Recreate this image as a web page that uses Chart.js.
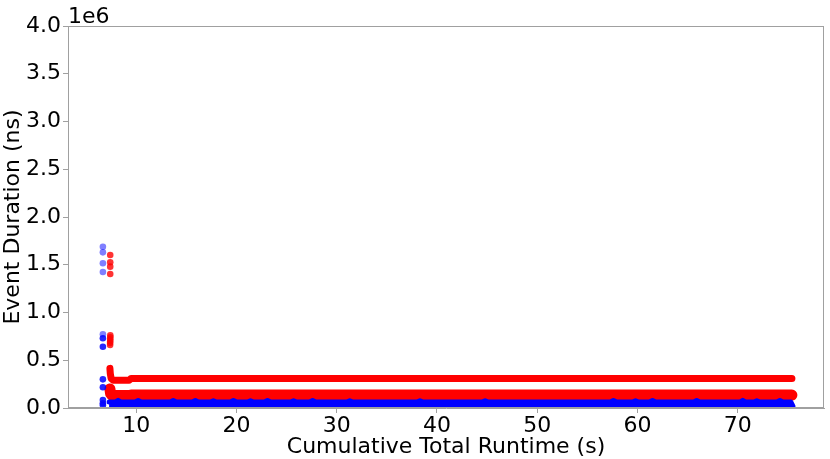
<!DOCTYPE html>
<html>
<head>
<meta charset="utf-8">
<script src="https://cdn.jsdelivr.net/npm/chart.js@4/dist/chart.umd.min.js"></script>
<style>
  html, body { margin: 0; padding: 0; background: #fff; }
  #wrap { width: 830px; height: 459px; position: relative; }
</style>
</head>
<body>
<div id="wrap"><canvas id="chart"></canvas></div>
<script>
// tick labels
const xTickValues = [10, 20, 30, 40, 50, 60, 70];
const yTickValues = [0, 0.5e6, 1.0e6, 1.5e6, 2.0e6, 2.5e6, 3.0e6, 3.5e6, 4.0e6];

// early outliers (start of run)
const blueFadedX = [6.68, 6.68, 6.68, 6.68, 6.68];
const blueFadedY = [1.689e6, 1.63e6, 1.515e6, 1.424e6, 0.772e6];
const blueSolidX = [6.68, 6.68, 6.68, 6.68, 6.68, 6.68, 6.68];
const blueSolidY = [0.73e6, 0.642e6, 0.30e6, 0.217e6, 0.084e6, 0.05e6, 0.03e6];
const redOutlierX = [7.41, 7.41, 7.41, 7.41, 7.42, 7.42, 7.41, 7.41, 7.40, 7.40];
const redOutlierY = [1.602e6, 1.526e6, 1.48e6, 1.403e6, 0.76e6, 0.74e6, 0.72e6, 0.70e6, 0.68e6, 0.66e6];

// upper red band (~0.3e6)
const redHighX = [7.38, 7.42, 7.5, 7.7, 8.5, 9.3, 9.5, 20, 30, 40, 50, 60, 70, 75.4];
const redHighY = [0.415e6, 0.36e6, 0.31e6, 0.29e6, 0.29e6, 0.29e6, 0.31e6, 0.31e6, 0.31e6, 0.31e6, 0.31e6, 0.31e6, 0.31e6, 0.31e6];

// lower red band (~0.13e6)
const redLowX = [7.38, 7.45, 7.6, 9.3, 9.5, 20, 30, 40, 50, 60, 70, 75.4];
const redLowY = [0.2e6, 0.15e6, 0.13e6, 0.13e6, 0.135e6, 0.135e6, 0.135e6, 0.135e6, 0.135e6, 0.135e6, 0.135e6, 0.135e6];

// blue band (0 .. ~0.06e6) with small bumps
const blueBandX = [7.3, 7.9, 8.2, 8.5, 9.9, 10.2, 10.5, 13.4, 13.7, 14.0, 15.6, 15.9, 16.2,
  17.4, 17.7, 18.0, 19.4, 19.7, 20.0, 21.1, 21.4, 21.7, 22.8, 23.1, 23.4, 25.4, 25.7, 26.0,
  27.3, 27.6, 27.9, 31.0, 31.3, 31.6, 38.0, 38.3, 38.6, 44.5, 44.8, 45.1, 57.3, 57.6, 57.9,
  59.5, 59.8, 60.1, 61.2, 61.5, 61.8, 65.6, 65.9, 66.2, 70.2, 70.5, 70.8, 71.6, 71.9, 72.2,
  73.9, 74.2, 74.5, 75.3, 75.5];
const blueBandY = [0.062e6, 0.062e6, 0.08e6, 0.062e6, 0.062e6, 0.078e6, 0.062e6, 0.062e6, 0.078e6, 0.062e6, 0.062e6, 0.078e6, 0.062e6,
  0.062e6, 0.075e6, 0.062e6, 0.062e6, 0.078e6, 0.062e6, 0.062e6, 0.075e6, 0.062e6, 0.062e6, 0.078e6, 0.062e6, 0.062e6, 0.075e6, 0.062e6,
  0.062e6, 0.078e6, 0.062e6, 0.062e6, 0.075e6, 0.062e6, 0.062e6, 0.075e6, 0.062e6, 0.062e6, 0.075e6, 0.062e6, 0.062e6, 0.078e6, 0.062e6,
  0.062e6, 0.075e6, 0.062e6, 0.062e6, 0.078e6, 0.062e6, 0.062e6, 0.078e6, 0.062e6, 0.062e6, 0.08e6, 0.062e6, 0.062e6, 0.075e6, 0.062e6,
  0.062e6, 0.078e6, 0.062e6, 0.062e6, 0.02e6];

const FONT = "'DejaVu Sans', 'Liberation Sans', sans-serif";
const FONT_SIZE = 22;
const AXIS_GREY = '#a0a0a0';

function toPoints(xs, ys) {
  return xs.map((x, i) => ({ x, y: ys[i] }));
}

// matplotlib-like frame + offset label
const framePlugin = {
  id: 'frame',
  afterDraw(chart) {
    const { ctx, chartArea: a } = chart;
    ctx.save();
    ctx.strokeStyle = AXIS_GREY;
    ctx.lineWidth = 1;
    ctx.strokeRect(a.left + 0.5, a.top + 0.5, a.right - a.left - 1, a.bottom - a.top - 1);
    ctx.fillStyle = '#000';
    ctx.font = FONT_SIZE + 'px ' + FONT;
    ctx.textAlign = 'left';
    ctx.textBaseline = 'alphabetic';
    ctx.fillText('1e6', a.left, a.top - 3);
    ctx.restore();
  }
};

const lineBand = (data, color, width, order, extra = {}) => ({
  type: 'line',
  data,
  borderColor: color,
  backgroundColor: color,
  borderWidth: width,
  borderCapStyle: 'round',
  borderJoinStyle: 'round',
  pointRadius: 0,
  tension: 0,
  order,
  ...extra
});

const scatterSet = (data, color, order) => ({
  type: 'scatter',
  data,
  backgroundColor: color,
  borderWidth: 0,
  pointRadius: 3.3,
  order
});

new Chart(document.getElementById('chart'), {
  data: {
    datasets: [
      lineBand(toPoints(blueBandX, blueBandY), '#0000ff', 5, 1, { fill: 'origin' }),
      scatterSet(toPoints(blueSolidX, blueSolidY), 'rgba(0,0,255,0.85)', 2),
      scatterSet(toPoints(blueFadedX, blueFadedY), 'rgba(0,0,255,0.5)', 3),
      lineBand(toPoints(redLowX, redLowY), '#ff0000', 11, 4),
      lineBand(toPoints(redHighX, redHighY), '#ff0000', 7, 5),
      scatterSet(toPoints(redOutlierX, redOutlierY), 'rgba(255,0,0,0.8)', 6)
    ]
  },
  options: {
    responsive: true,
    maintainAspectRatio: false,
    animation: false,
    layout: { padding: { top: 26, right: 6, left: 0, bottom: 0 } },
    plugins: {
      legend: { display: false },
      tooltip: { enabled: false }
    },
    scales: {
      x: {
        type: 'linear',
        min: 3.2,
        max: 78.6,
        afterBuildTicks: s => { s.ticks = xTickValues.map(v => ({ value: v })); },
        afterFit: s => { s.height = 51; },
        grid: { drawOnChartArea: false, tickLength: 5, color: AXIS_GREY },
        border: { color: AXIS_GREY },
        ticks: { color: '#000', font: { family: FONT, size: FONT_SIZE }, padding: 0, maxRotation: 0 },
        title: { display: true, text: 'Cumulative Total Runtime (s)', color: '#000', font: { family: FONT, size: FONT_SIZE }, padding: { top: 0, bottom: -1 } }
      },
      y: {
        type: 'linear',
        min: 0,
        max: 4.0e6,
        afterBuildTicks: s => { s.ticks = yTickValues.map(v => ({ value: v })); },
        afterFit: s => { s.width = 68; },
        grid: { drawOnChartArea: false, tickLength: 5, color: AXIS_GREY },
        border: { color: AXIS_GREY },
        ticks: {
          color: '#000',
          font: { family: FONT, size: FONT_SIZE },
          padding: 2,
          callback: v => (v / 1e6).toFixed(1)
        },
        title: { display: true, text: 'Event Duration (ns)', color: '#000', font: { family: FONT, size: FONT_SIZE }, padding: { top: 0, bottom: 0 } }
      }
    }
  },
  plugins: [framePlugin]
});
</script>
</body>
</html>
